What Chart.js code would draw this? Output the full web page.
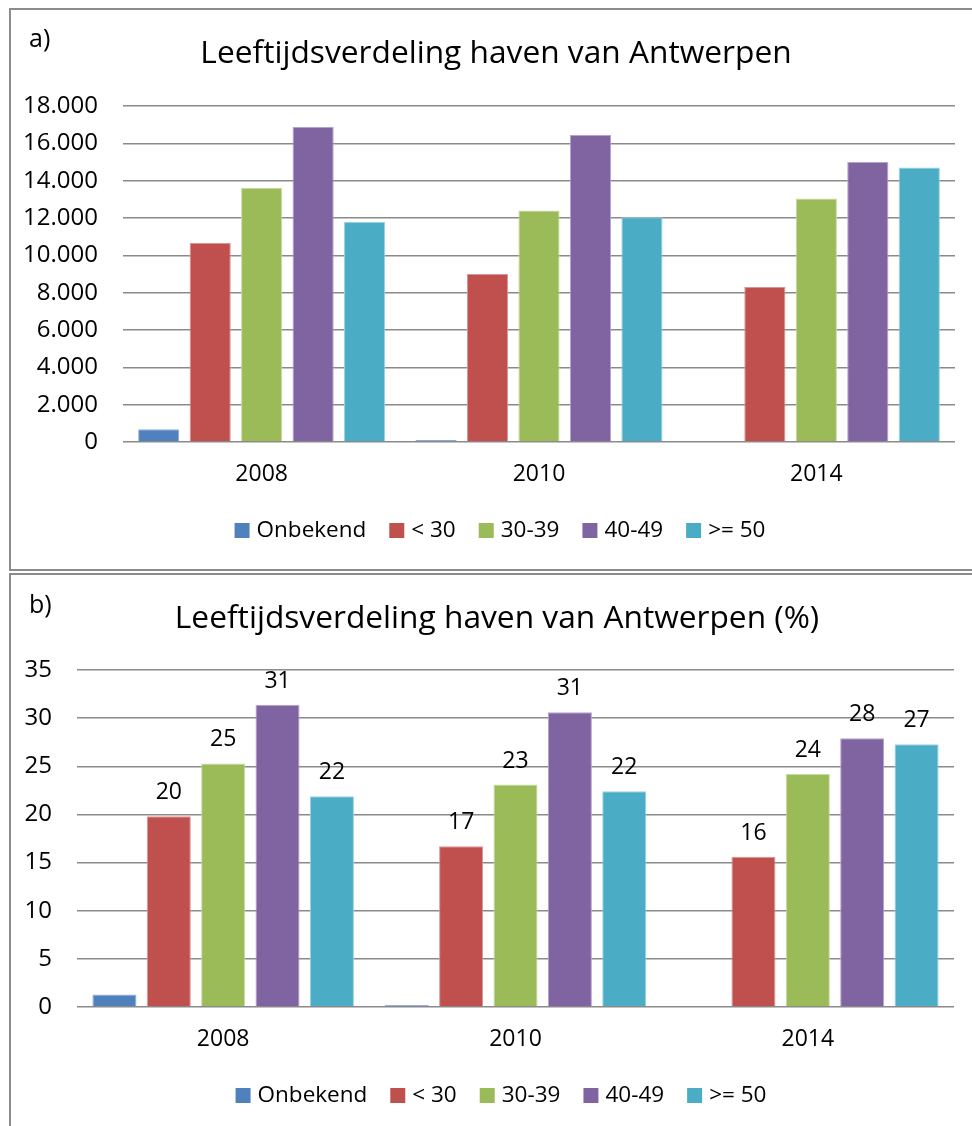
<!DOCTYPE html>
<html>
<head>
<meta charset="utf-8">
<title>Leeftijdsverdeling haven van Antwerpen</title>
<script src="https://cdn.jsdelivr.net/npm/chart.js@4.4.1/dist/chart.umd.min.js"></script>
<style>
  html, body { margin: 0; padding: 0; background: #fff; width: 972px; height: 1126px; overflow: hidden; }
  .frame { position: absolute; border: 2px solid #8c8c8c; box-sizing: border-box; }
  #frameA { left: 9px; top: 8px; width: 1000px; height: 563px; }
  #frameB { left: 9px; top: 573px; width: 1000px; height: 600px; }
  canvas { position: absolute; left: 0; }
  #chartA { top: 0; }
  #chartB { top: 573px; }
</style>
</head>
<body>
<div class="frame" id="frameA"></div>
<div class="frame" id="frameB"></div>
<canvas id="chartA" width="972" height="571"></canvas>
<canvas id="chartB" width="972" height="553"></canvas>
<script>
// Survey years (categories) and age groups (series)
const years = ['2008', '2010', '2014'];
const ageGroups = ['Onbekend', '< 30', '30-39', '40-49', '>= 50'];
const groupColors = ['#4F81BD', '#C0504D', '#9BBB59', '#8064A2', '#4BACC6'];
const groupEdges  = ['#8FAEDA', '#DC9593', '#C6DCA0', '#B4A2CC', '#98D2E2'];

// a) number of port workers per age group
const countUnknown  = [680, 110, 0];
const countUnder30  = [10660, 9000, 8300];
const count30to39   = [13620, 12400, 13050];
const count40to49   = [16890, 16450, 15000];
const count50plus   = [11790, 12040, 14710];

// b) share of port workers per age group (%)
const pctUnknown  = [1.3, 0.2, 0];
const pctUnder30  = [19.8, 16.7, 15.6];
const pct30to39   = [25.3, 23.1, 24.2];
const pct40to49   = [31.4, 30.6, 27.9];
const pct50plus   = [21.9, 22.4, 27.3];

// y-axis ranges
const countAxisMax = 18000, countAxisStep = 2000;
const pctAxisMax = 35, pctAxisStep = 5;

const FONT = '"Open Sans"';

function thousands(v) {
  return String(v).replace(/\B(?=(\d{3})+(?!\d))/g, '.');
}

function buildDatasets(seriesList) {
  return seriesList.map((values, i) => ({
    label: ageGroups[i],
    data: values,
    backgroundColor: groupColors[i],
    borderColor: groupEdges[i],
    borderWidth: 1,
    borderSkipped: 'bottom'
  }));
}

// Panel letter, title and legend drawn on the chart canvas
function decorPlugin(cfg) {
  return {
    id: 'decor',
    afterDraw(chart) {
      const ctx = chart.ctx;
      ctx.save();
      ctx.fillStyle = '#000';
      ctx.textBaseline = 'alphabetic';
      ctx.textAlign = 'left';
      ctx.font = '25px ' + FONT;
      ctx.fillText(cfg.letter, 29, cfg.letterY);

      ctx.textAlign = 'center';
      ctx.font = cfg.titleSize + 'px ' + FONT;
      ctx.fillText(cfg.title, cfg.titleX, cfg.titleY);

      // legend row
      const box = 15, gap = 7, itemGap = 23;
      ctx.font = '22.5px ' + FONT;
      const items = chart.data.datasets.map(ds => ({
        label: ds.label, color: ds.backgroundColor, w: ctx.measureText(ds.label).width
      }));
      const total = items.reduce((s, it) => s + box + gap + it.w, 0) + itemGap * (items.length - 1);
      let x = cfg.legendX - total / 2;
      ctx.textAlign = 'left';
      ctx.textBaseline = 'middle';
      items.forEach(it => {
        ctx.fillStyle = it.color;
        ctx.fillRect(x, cfg.legendY - box / 2, box, box);
        ctx.fillStyle = '#000';
        ctx.fillText(it.label, x + box + gap, cfg.legendY);
        x += box + gap + it.w + itemGap;
      });
      ctx.restore();
    }
  };
}

// Value labels above the bars (all groups except "Onbekend")
const valueLabels = {
  id: 'valueLabels',
  afterDatasetsDraw(chart) {
    const ctx = chart.ctx;
    ctx.save();
    ctx.font = '23px ' + FONT;
    ctx.fillStyle = '#000';
    ctx.textAlign = 'center';
    ctx.textBaseline = 'alphabetic';
    chart.data.datasets.forEach((ds, di) => {
      if (di === 0) return;
      const meta = chart.getDatasetMeta(di);
      meta.data.forEach((bar, i) => {
        ctx.fillText(String(Math.round(ds.data[i])), bar.x, bar.y - 17);
      });
    });
    ctx.restore();
  }
};

function makeChart(id, seriesList, opts) {
  return new Chart(document.getElementById(id), {
    type: 'bar',
    data: { labels: years, datasets: buildDatasets(seriesList) },
    options: {
      responsive: false,
      animation: false,
      devicePixelRatio: 1,
      layout: { padding: { top: opts.top, right: opts.right, left: 0, bottom: 0 } },
      datasets: { bar: { categoryPercentage: opts.catPct, barPercentage: opts.barPct } },
      plugins: { legend: { display: false }, title: { display: false }, tooltip: { enabled: false } },
      scales: {
        x: {
          grid: { display: false, drawTicks: false },
          border: { display: false },
          ticks: { color: '#000', font: { family: FONT, size: 23 }, padding: 19 },
          afterFit(scale) { scale.height = opts.xHeight; }
        },
        y: {
          min: 0, max: opts.max,
          grid: { color: '#8a8a8a', lineWidth: 1.5, drawTicks: false },
          border: { display: false },
          ticks: {
            stepSize: opts.step, color: '#000', padding: 25,
            font: { family: FONT, size: 24 },
            callback: opts.format
          },
          afterFit(scale) { scale.width = opts.yWidth; }
        }
      }
    },
    plugins: opts.plugins
  });
}

makeChart('chartA',
  [countUnknown, countUnder30, count30to39, count40to49, count50plus],
  {
    top: 106, right: 17, xHeight: 129, yWidth: 123,
    max: countAxisMax, step: countAxisStep, format: v => thousands(v),
    catPct: 0.928, barPct: 0.8,
    plugins: [decorPlugin({
      letter: 'a)', letterY: 47,
      title: 'Leeftijdsverdeling haven van Antwerpen', titleSize: 31.7, titleX: 496, titleY: 63,
      legendX: 500, legendY: 530.5
    })]
  });

makeChart('chartB',
  [pctUnknown, pctUnder30, pct30to39, pct40to49, pct50plus],
  {
    top: 97, right: 18, xHeight: 119, yWidth: 77,
    max: pctAxisMax, step: pctAxisStep, format: v => String(v),
    catPct: 0.93, barPct: 0.81,
    plugins: [valueLabels, decorPlugin({
      letter: 'b)', letterY: 40,
      title: 'Leeftijdsverdeling haven van Antwerpen (%)', titleSize: 31.7, titleX: 497, titleY: 55,
      legendX: 501, legendY: 522.5
    })]
  });
</script>
</body>
</html>
